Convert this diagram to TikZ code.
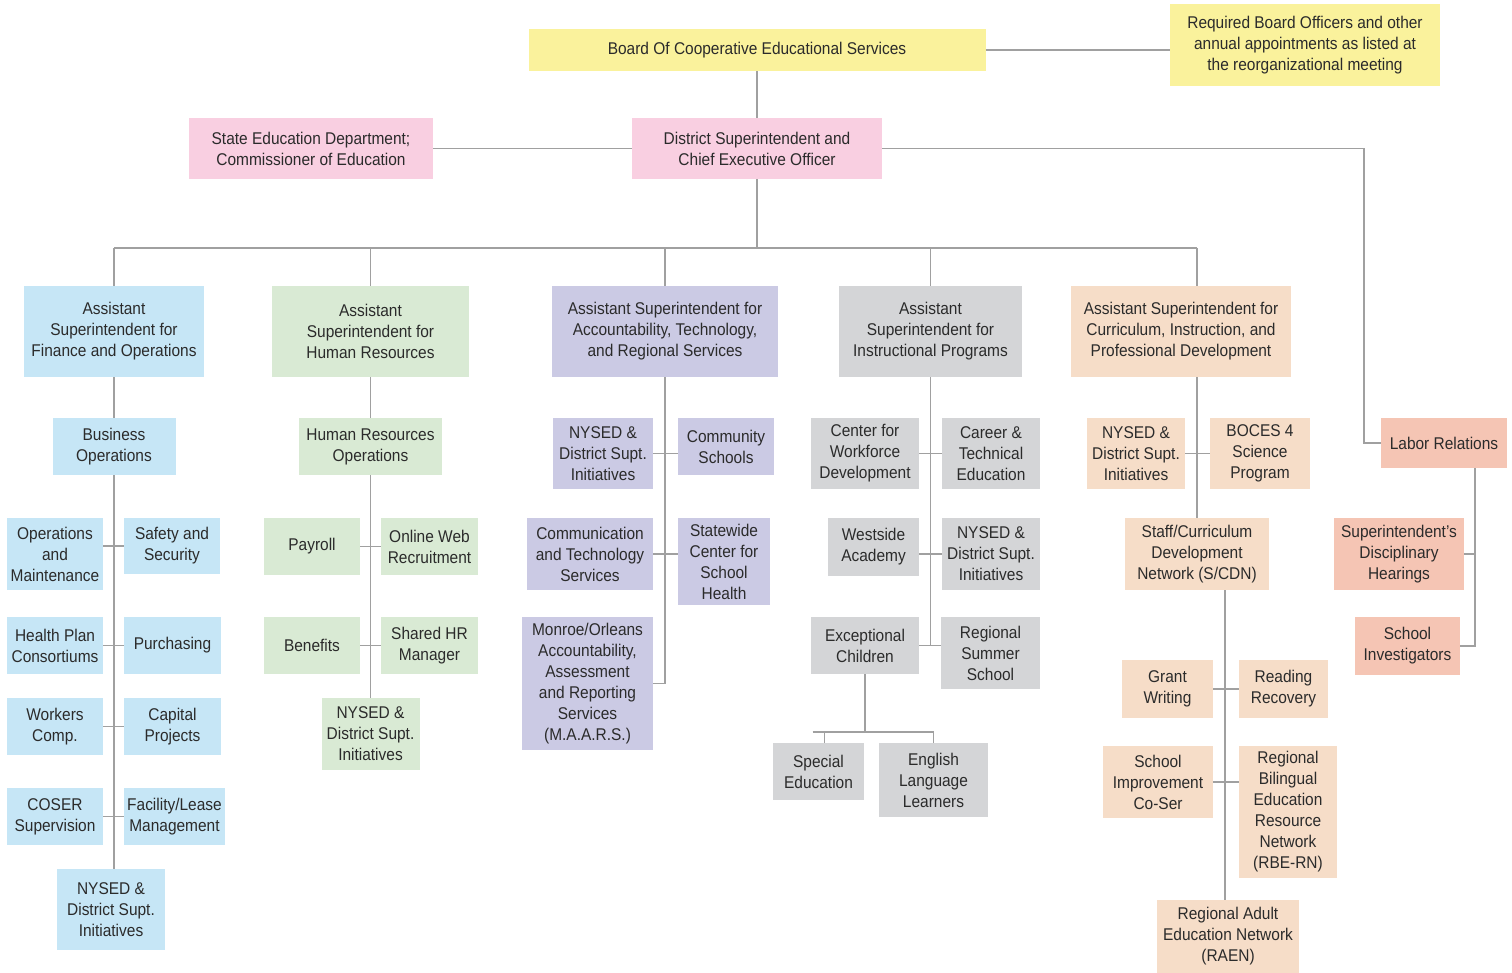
\documentclass[tikz,border=0pt]{standalone}
\usepackage{fontspec}
\setmainfont[FakeStretch=0.91]{Liberation Sans}
\usepackage{xcolor}
\usetikzlibrary{calc}
\definecolor{boardyellow}{HTML}{FAF29C}
\definecolor{suppink}{HTML}{F9CFE1}
\definecolor{finblue}{HTML}{C6E6F6}
\definecolor{hrgreen}{HTML}{D9EAD4}
\definecolor{acclilac}{HTML}{CBCAE4}
\definecolor{instgray}{HTML}{D4D5D7}
\definecolor{curpeach}{HTML}{F6DDC8}
\definecolor{labsalmon}{HTML}{F5C5B4}
\definecolor{linegray}{HTML}{A0A0A0}
\definecolor{textgray}{HTML}{2B2B2B}
\tikzset{
  unit/.style={rectangle, inner sep=0pt, align=center, text=textgray,
    font=\fontsize{17}{21}\selectfont},
  link/.style={draw=linegray, line width=1.3pt},
}

\begin{document}
\begin{tikzpicture}[x=1pt,y=-1pt]
\useasboundingbox [fill=white] (0,0) rectangle (1512,973);

\node[unit, fill=boardyellow, minimum width=457, minimum height=42] (board) at (757,50) {Board Of Cooperative Educational Services};
\node[unit, fill=boardyellow, minimum width=270, minimum height=82] (req) at (1305,45) {Required Board Officers and other\\annual appointments as listed at\\the reorganizational meeting};
\node[unit, fill=suppink, minimum width=244, minimum height=61] (stateed) at (311,148.5) {State Education Department;\\Commissioner of Education};
\node[unit, fill=suppink, minimum width=250, minimum height=61] (dsup) at (757,148.5) {District Superintendent and\\Chief Executive Officer};

\draw[link] (board.east) -- (board.east -| req.west);
\draw[link] (board) -- (dsup);
\draw[link] (stateed) -- (dsup);

\node[unit, fill=finblue, minimum width=180, minimum height=91] (fin) at (114,331.5) {Assistant\\Superintendent for\\Finance and Operations};
\node[unit, fill=hrgreen, minimum width=197, minimum height=91] (hr) at (370.5,331.5) {Assistant\\Superintendent for\\Human Resources};
\node[unit, fill=acclilac, minimum width=226, minimum height=91] (acc) at (665,331.5) {Assistant Superintendent for\\Accountability, Technology,\\and Regional Services};
\node[unit, fill=instgray, minimum width=183, minimum height=91] (inst) at (930.5,331.5) {Assistant\\Superintendent for\\Instructional Programs};
\node[unit, fill=curpeach, minimum width=220, minimum height=91] (cur) at (1181,331.5) {Assistant Superintendent for\\Curriculum, Instruction, and\\Professional Development};

\coordinate (bus) at (757,248);
\draw[link] (dsup.south) -- (bus);
\draw[link] (fin.north |- bus) -- ([xshift=16pt]cur.north |- bus);
\foreach \n in {fin,hr,acc,inst} \draw[link] (\n.north) -- (\n.north |- bus);
\draw[link] ([xshift=16pt]cur.north) -- ([xshift=16pt]cur.north |- bus);

% finance and operations
\node[unit, fill=finblue, minimum width=123, minimum height=57] (busops) at (114,446.5) {Business\\Operations};
\node[unit, fill=finblue, minimum width=96, minimum height=72] (opsm) at (55,554) {Operations\\and\\Maintenance};
\node[unit, fill=finblue, minimum width=96, minimum height=56] (safety) at (172,546) {Safety and\\Security};
\node[unit, fill=finblue, minimum width=96, minimum height=57] (health) at (55,645.5) {Health Plan\\Consortiums};
\node[unit, fill=finblue, minimum width=97, minimum height=57] (purch) at (172.5,645.5) {Purchasing};
\node[unit, fill=finblue, minimum width=96, minimum height=57] (workers) at (55,726.5) {Workers\\Comp.};
\node[unit, fill=finblue, minimum width=97, minimum height=57] (capital) at (172.5,726.5) {Capital\\Projects};
\node[unit, fill=finblue, minimum width=96, minimum height=57] (coser) at (55,816.5) {COSER\\Supervision};
\node[unit, fill=finblue, minimum width=101, minimum height=57] (facility) at (174.5,816.5) {Facility/Lease\\Management};
\node[unit, fill=finblue, minimum width=108, minimum height=81] (nysedF) at (111,909.5) {NYSED \&\\District Supt.\\Initiatives};

\draw[link] (fin.south) -- (busops.north);
\draw[link] (busops.south) -- (busops.south |- nysedF.north);
\draw[link] (safety.west) -- (safety.west -| opsm.east);
\draw[link] (health.east) -- (purch.west);
\draw[link] (workers.east) -- (capital.west);
\draw[link] (coser.east) -- (facility.west);

% human resources
\node[unit, fill=hrgreen, minimum width=143, minimum height=57] (hrops) at (370.5,446.5) {Human Resources\\Operations};
\node[unit, fill=hrgreen, minimum width=96, minimum height=57] (payroll) at (312,546.5) {Payroll};
\node[unit, fill=hrgreen, minimum width=97, minimum height=57] (online) at (429.5,546.5) {Online Web\\Recruitment};
\node[unit, fill=hrgreen, minimum width=96, minimum height=57] (benefits) at (312,645.5) {Benefits};
\node[unit, fill=hrgreen, minimum width=97, minimum height=57] (shared) at (429.5,645.5) {Shared HR\\Manager};
\node[unit, fill=hrgreen, minimum width=98, minimum height=72] (nysedH) at (370.5,734) {NYSED \&\\District Supt.\\Initiatives};

\draw[link] (hr.south) -- (hrops.north);
\draw[link] (hrops.south) -- (nysedH.north);
\draw[link] (payroll.east) -- (online.west);
\draw[link] (benefits.east) -- (shared.west);

% accountability, technology and regional services
\node[unit, fill=acclilac, minimum width=100, minimum height=71] (nysedA) at (603,453.5) {NYSED \&\\District Supt.\\Initiatives};
\node[unit, fill=acclilac, minimum width=96, minimum height=57] (community) at (726,446.5) {Community\\Schools};
\node[unit, fill=acclilac, minimum width=126, minimum height=72] (commtech) at (590,554) {Communication\\and Technology\\Services};
\node[unit, fill=acclilac, minimum width=92, minimum height=87] (statewide) at (724,561.5) {Statewide\\Center for\\School\\Health};
\node[unit, fill=acclilac, minimum width=131, minimum height=133] (maars) at (587.5,683.5) {Monroe/Orleans\\Accountability,\\Assessment\\and Reporting\\Services\\(M.A.A.R.S.)};

\draw[link] (acc.south) |- (maars.east);
\draw[link] (nysedA.east) -- (nysedA.east -| community.west);
\draw[link] (commtech.east) -- (commtech.east -| statewide.west);

% instructional programs
\node[unit, fill=instgray, minimum width=108, minimum height=71] (cwd) at (865,453.5) {Center for\\Workforce\\Development};
\node[unit, fill=instgray, minimum width=98, minimum height=71] (career) at (991,453.5) {Career \&\\Technical\\Education};
\node[unit, fill=instgray, minimum width=91, minimum height=58] (westside) at (873.5,547) {Westside\\Academy};
\node[unit, fill=instgray, minimum width=98, minimum height=72] (nysedI) at (991,554) {NYSED \&\\District Supt.\\Initiatives};
\node[unit, fill=instgray, minimum width=108, minimum height=57] (exc) at (865,645.5) {Exceptional\\Children};
\node[unit, fill=instgray, minimum width=99, minimum height=72] (summer) at (990.5,653) {Regional\\Summer\\School};
\node[unit, fill=instgray, minimum width=91, minimum height=57] (spec) at (818.5,771.5) {Special\\Education};
\node[unit, fill=instgray, minimum width=109, minimum height=74] (ell) at (933.5,780) {English\\Language\\Learners};

\draw[link] (inst.south) -- (inst.south |- exc.east);
\draw[link] (cwd.east) -- (career.west);
\draw[link] (nysedI.west) -- (nysedI.west -| westside.east);
\draw[link] (exc.east) -- (exc.east -| summer.west);
\coordinate (excbus) at (865,732);
\draw[link] (exc.south) -- (excbus);
\draw[link] ([xshift=-6pt]spec.north |- excbus) -- (ell.north |- excbus);
\draw[link] ([xshift=6pt]spec.north) -- ([xshift=6pt]spec.north |- excbus);
\draw[link] (ell.north) -- (ell.north |- excbus);

% curriculum, instruction and professional development
\node[unit, fill=curpeach, minimum width=98, minimum height=71] (nysedC) at (1136,453.5) {NYSED \&\\District Supt.\\Initiatives};
\node[unit, fill=curpeach, minimum width=100, minimum height=71] (boces) at (1260,453.5) {BOCES 4\\Science\\Program};
\node[unit, fill=curpeach, minimum width=144, minimum height=72] (scdn) at (1197,554) {Staff/Curriculum\\Development\\Network (S/CDN)};
\node[unit, fill=curpeach, minimum width=91, minimum height=58] (grant) at (1167.5,689) {Grant\\Writing};
\node[unit, fill=curpeach, minimum width=89, minimum height=58] (reading) at (1283.5,689) {Reading\\Recovery};
\node[unit, fill=curpeach, minimum width=110, minimum height=72] (sis) at (1158,782) {School\\Improvement\\Co-Ser};
\node[unit, fill=curpeach, minimum width=98, minimum height=132] (rbern) at (1288,812) {Regional\\Bilingual\\Education\\Resource\\Network\\(RBE-RN)};
\node[unit, fill=curpeach, minimum width=142, minimum height=73] (raen) at (1228,936.5) {Regional Adult\\Education Network\\(RAEN)};

\draw[link] ([xshift=16pt]cur.south) -- (scdn.north);
\draw[link] (nysedC.east) -- (boces.west);
\draw[link] ([xshift=28pt]scdn.south) -- ([xshift=28pt]scdn.south |- raen.north);
\draw[link] (grant.east) -- (reading.west);
\draw[link] (sis.east) -- (sis.east -| rbern.west);

% labor relations
\node[unit, fill=labsalmon, minimum width=126, minimum height=50] (labor) at (1444,443) {Labor Relations};
\node[unit, fill=labsalmon, minimum width=130, minimum height=72] (sdh) at (1399,554) {Superintendent's\\Disciplinary\\Hearings};
\node[unit, fill=labsalmon, minimum width=105, minimum height=58] (sinv) at (1407.5,646) {School\\Investigators};

\coordinate (lr) at (1364,443);
\draw[link] (dsup.east) -| (lr) -- (labor.west);
\draw[link] ([xshift=31pt]labor.south) |- (sinv.east);
\draw[link] (sdh.east) -- ([xshift=31pt]labor.south |- sdh.east);
\end{tikzpicture}
\end{document}
